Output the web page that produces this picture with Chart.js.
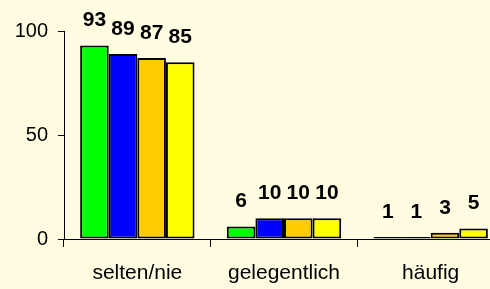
<!DOCTYPE html>
<html>
<head>
<meta charset="utf-8">
<script src="https://cdn.jsdelivr.net/npm/chart.js@4/dist/chart.umd.min.js"></script>
<style>
  html, body { margin: 0; padding: 0; background: #FFFCE1; overflow: hidden; }
  #wrap { width: 490px; height: 289px; overflow: hidden; position: relative; }
  canvas { display: block; }
</style>
</head>
<body>
<div id="wrap"><canvas id="c" width="504" height="289"></canvas></div>
<script>
const categories = ["selten/nie", "gelegentlich", "häufig"];
const seriesA = [93, 6, 1];   // green
const seriesB = [89, 10, 1];  // blue
const seriesC = [87, 10, 3];  // orange
const seriesD = [85, 10, 5];  // yellow
const yTicks = [0, 50, 100];

const bgPlugin = {
  id: 'bg',
  beforeDraw(chart) {
    const ctx = chart.ctx;
    ctx.save();
    ctx.fillStyle = '#FFFCE1';
    ctx.fillRect(0, 0, chart.width, chart.height);
    ctx.restore();
  }
};

const labelPlugin = {
  id: 'vals',
  afterDatasetsDraw(chart) {
    const ctx = chart.ctx;
    ctx.save();
    ctx.font = 'bold 21px "Liberation Sans", Arial, sans-serif';
    ctx.fillStyle = '#000';
    ctx.textAlign = 'center';
    ctx.textBaseline = 'middle';
    chart.data.datasets.forEach((ds, i) => {
      const meta = chart.getDatasetMeta(i);
      meta.data.forEach((el, j) => {
        ctx.fillText(String(ds.data[j]), el.x, el.y - 25);
      });
    });
    ctx.restore();
  }
};

const mk = (data, color) => ({
  data, backgroundColor: color, borderColor: '#000', borderWidth: 2,
  borderSkipped: false, categoryPercentage: 0.78, barPercentage: 1.0
});

new Chart(document.getElementById('c'), {
  type: 'bar',
  data: {
    labels: categories,
    datasets: [
      mk(seriesA, '#00FF00'),
      mk(seriesB, '#0000FF'),
      mk(seriesC, '#FFCC00'),
      mk(seriesD, '#FFFF00')
    ]
  },
  options: {
    responsive: false,
    animation: false,
    layout: { padding: { top: 31, right: 0, bottom: 0, left: 0 } },
    plugins: { legend: { display: false }, tooltip: { enabled: false } },
    scales: {
      x: {
        grid: { display: true, offset: true, drawOnChartArea: false, drawTicks: true, tickLength: 8, color: '#000', lineWidth: 1 },
        border: { display: true, color: '#000', width: 1 },
        ticks: { color: '#000', padding: 14, font: { family: '"Liberation Sans", Arial, sans-serif', size: 21 }, maxRotation: 0 },
        afterFit(s) { s.height = 50; }
      },
      y: {
        min: 0, max: 100,
        afterBuildTicks(s) { s.ticks = yTicks.map(v => ({ value: v })); },
        grid: { display: true, drawOnChartArea: false, drawTicks: true, tickLength: 6, color: '#000', lineWidth: 1 },
        border: { display: true, color: '#000', width: 1 },
        ticks: { color: '#000', padding: 10, font: { family: '"Liberation Sans", Arial, sans-serif', size: 20 } },
        afterFit(s) { s.width = 64; }
      }
    }
  },
  plugins: [bgPlugin, labelPlugin]
});
</script>
</body>
</html>
